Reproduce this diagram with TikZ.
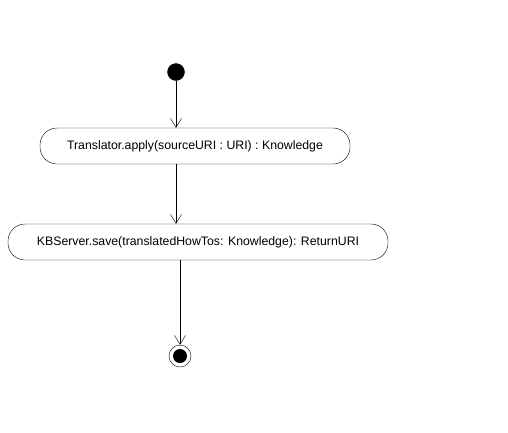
\documentclass[tikz,border=0pt]{standalone}
\usepackage{fontspec}
\setmainfont{Liberation Sans}
\usetikzlibrary{arrows.meta,positioning}
\tikzset{
  act/.style={draw,rounded corners=17pt,minimum height=36pt,inner sep=0pt,font=\fontsize{12.3}{14}\selectfont},
  initst/.style={circle,fill=black,draw,minimum size=17pt,inner sep=0pt},
  finst/.style={circle,draw,minimum size=22pt,inner sep=0pt,
    path picture={\fill (path picture bounding box.center) circle (7pt);}},
  ar/.style={-{Straight Barb[length=9pt,width=11pt]},thin},
}
\begin{document}
\begin{tikzpicture}[x=1pt,y=-1pt]
\useasboundingbox (0,0) rectangle (508,432);
\node[initst] (start) at (176,72) {};
\node[act,minimum width=310pt] (apply) at (195,146) {Translator.apply(sourceURI : URI) : Knowledge};
\node[act,minimum width=380pt] (save) at (198,242) {KBServer.save(translatedHowTos: Knowledge): ReturnURI};
\node[finst] (stop) at (180,356) {};
\draw[ar] (start) -- (start |- apply.north);
\draw[ar] (start |- apply.south) -- (start |- save.north);
\draw[ar] (stop |- save.south) -- (stop);
\end{tikzpicture}
\end{document}
